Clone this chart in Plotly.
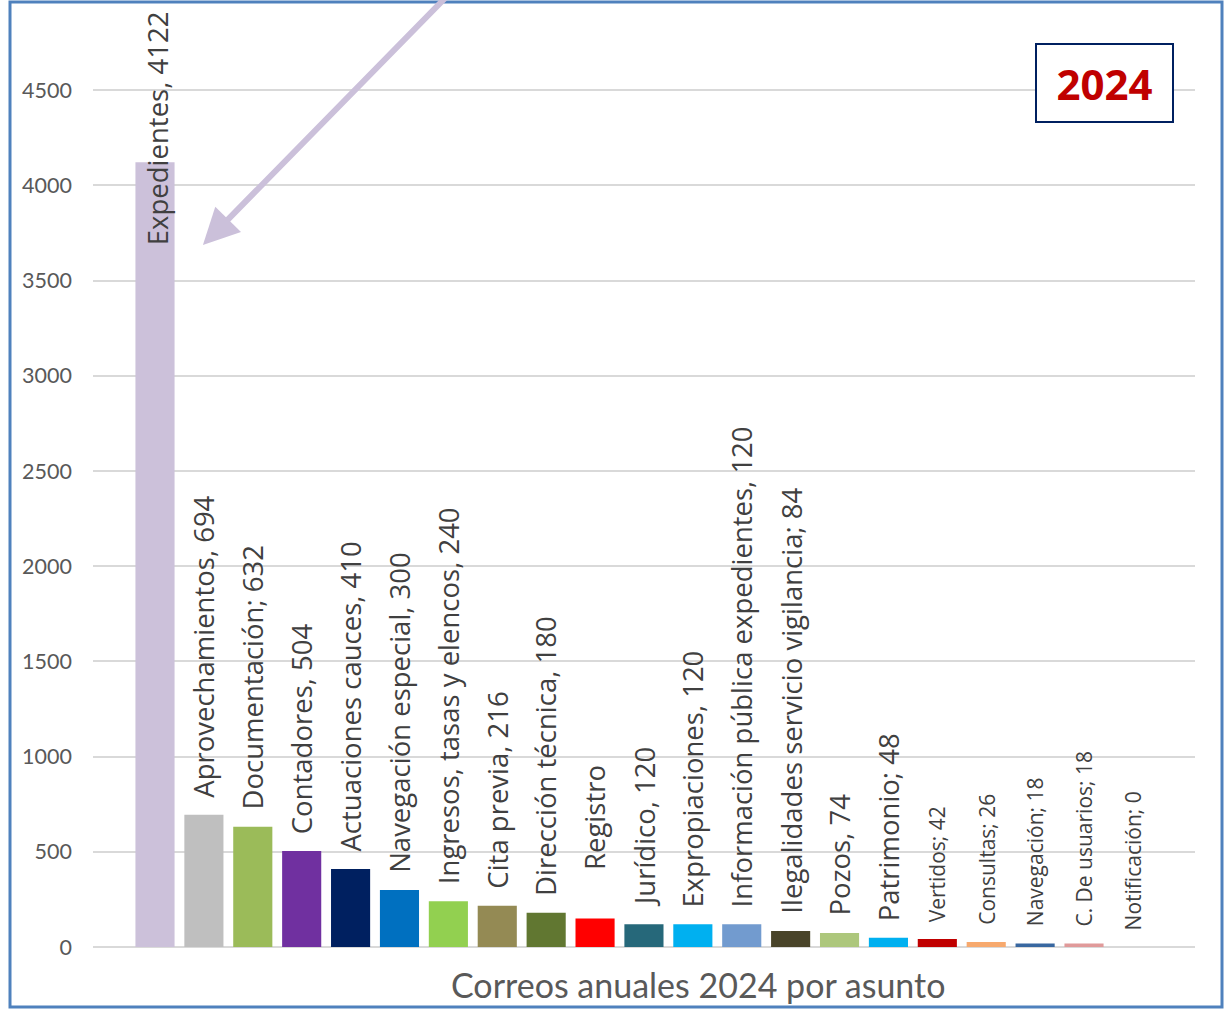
import plotly.graph_objects as go

categories = ["Expedientes", "Aprovechamientos", "Documentación", "Contadores",
              "Actuaciones cauces", "Navegación especial", "Ingresos, tasas y elencos",
              "Cita previa", "Dirección técnica", "Registro", "Jurídico", "Expropiaciones",
              "Información pública expedientes", "Ilegalidades servicio vigilancia", "Pozos",
              "Patrimonio", "Vertidos", "Consultas", "Navegación", "C. De usuarios", "Notificación"]
values = [4122, 694, 632, 504, 410, 300, 240, 216, 180, 150, 120, 120, 120, 84, 74, 48, 42, 26, 18, 18, 0]
labels = ["Expedientes, 4122", "Aprovechamientos, 694", "Documentación; 632", "Contadores, 504",
          "Actuaciones cauces, 410", "Navegación especial, 300", "Ingresos, tasas y elencos, 240",
          "Cita previa, 216", "Dirección técnica, 180", "Registro", "Jurídico, 120",
          "Expropiaciones, 120", "Información pública expedientes, 120",
          "Ilegalidades servicio vigilancia; 84", "Pozos, 74", "Patrimonio; 48", "Vertidos; 42",
          "Consultas; 26", "Navegación; 18", "C. De usuarios; 18", "Notificación; 0"]
colors = ["#CCC1DA", "#BFBFBF", "#9BBB59", "#7030A0", "#002060", "#0070C0", "#92D050",
          "#948A54", "#617731", "#FF0000", "#26687A", "#00B0F0", "#729BCF", "#494429",
          "#ADC77C", "#00B0F0", "#C00000", "#F7A96E", "#3867A0", "#E09A9A", "#FFFFFF"]
y_ticks = [0, 500, 1000, 1500, 2000, 2500, 3000, 3500, 4000, 4500]
x_title = "Correos anuales 2024 por asunto"
year_label = "2024"

W, H = 1229, 1009
L, R, T, B = 93, 34, 10, 62
pw, ph = W - L - R, H - T - B

fig = go.Figure()
fig.add_trace(go.Bar(x=categories, y=values, marker=dict(color=colors, line=dict(width=0)),
                     hoverinfo="x+y"))

annotations = []
small_from = 16
for i, (c, v, lab) in enumerate(zip(categories, values, labels)):
    size = 21 if i >= small_from else 27.5
    if i == 0:
        annotations.append(dict(x=c, y=v, text=lab, textangle=-90, showarrow=False,
                                xanchor="center", yanchor="middle", yshift=34, xshift=2,
                                font=dict(family="Open Sans", size=size, color="#404040")))
    else:
        shift = 46 if c == "Registro" else 15
        annotations.append(dict(x=c, y=v, text=lab, textangle=-90, showarrow=False,
                                xanchor="center", yanchor="bottom", yshift=shift,
                                font=dict(family="Open Sans", size=size, color="#404040")))

# arrow
annotations.append(dict(x=0.98, y=3687, ax=6.3, ay=5080, xref="x", yref="y", axref="x", ayref="y",
                        text="", showarrow=True, arrowhead=2, arrowsize=1.2, arrowwidth=6,
                        arrowcolor="#CBC0DA"))
# year box
annotations.append(dict(x=(1104.5 - L) / pw, y=(T + ph - 83) / ph, xref="paper", yref="paper",
                        text="<b>" + year_label + "</b>", showarrow=False, xanchor="center",
                        yanchor="middle", width=133, height=74, bgcolor="#FFFFFF",
                        bordercolor="#002060", borderwidth=2,
                        font=dict(family="Open Sans", size=42, color="#C00000")))
# x title
annotations.append(dict(x=(698 - L) / pw, y=(T + ph - 984) / ph, xref="paper", yref="paper",
                        text=x_title, showarrow=False, xanchor="center", yanchor="middle",
                        font=dict(family="Lato", size=34, color="#595959")))

ymax = ph / 95.2 * 500
fig.update_layout(
    width=W, height=H, margin=dict(l=L, r=R, t=T, b=B, autoexpand=False),
    paper_bgcolor="white", plot_bgcolor="white", showlegend=False, bargap=0.2,
    annotations=annotations,
    xaxis=dict(type="category", range=[-1.268, 21.27], showticklabels=False, showgrid=False,
               zeroline=False, showline=False, ticks=""),
    yaxis=dict(range=[0, ymax], tickvals=y_ticks, showgrid=True, gridcolor="#D9D9D9", gridwidth=1.5,
               zeroline=True, zerolinecolor="#D9D9D9", zerolinewidth=2, showline=False,
               tickfont=dict(family="Lato", size=21.5, color="#595959"), ticklabelstandoff=20),
    shapes=[dict(type="rect", xref="paper", yref="paper",
                 x0=(10 - L) / pw, x1=(1222 - L) / pw,
                 y0=(T + ph - 1007) / ph, y1=(T + ph - 2) / ph,
                 line=dict(color="#4F81BD", width=3), fillcolor="rgba(0,0,0,0)", layer="above")],
)
fig.write_html("out.html", config={"displayModeBar": False},
               post_script="document.body.style.margin='0px';document.body.style.overflow='hidden';")
